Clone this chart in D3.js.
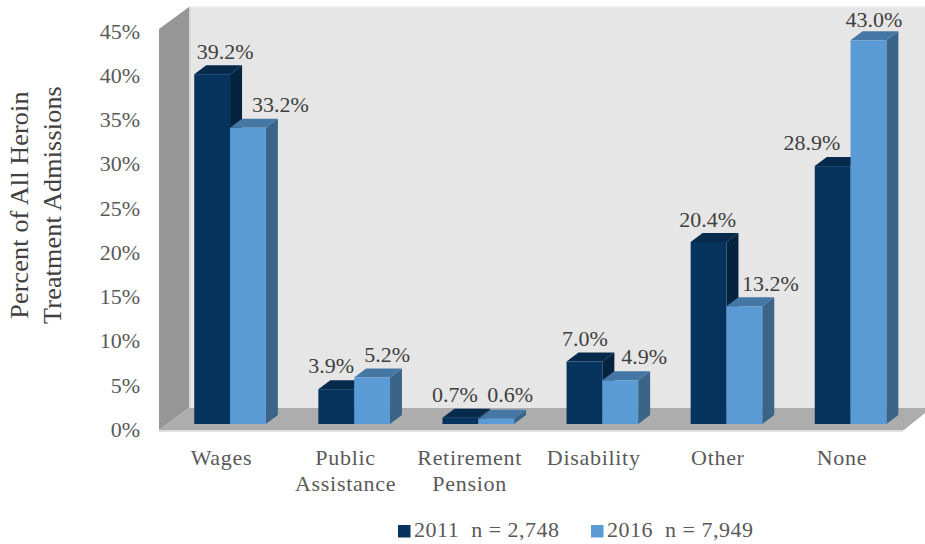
<!DOCTYPE html>
<html><head><meta charset="utf-8">
<script src="https://cdn.jsdelivr.net/npm/d3@7/dist/d3.min.js"></script>
<style>html,body{margin:0;padding:0;background:#fff}svg{display:block}
text{font-family:"Liberation Serif",serif;fill:#404040}</style></head>
<body><div id="chart"></div>
<script>
const categories = [["Wages"],["Public","Assistance"],["Retirement","Pension"],["Disability"],["Other"],["None"]];
const categoryKeys = ["Wages","Public Assistance","Retirement Pension","Disability","Other","None"];
const series2011 = [39.2,3.9,0.7,7.0,20.4,28.9];
const series2016 = [33.2,5.2,0.6,4.9,13.2,43.0];
const seriesNames = ["2011  n = 2,748","2016  n = 7,949"];
const yTicks = [0,5,10,15,20,25,30,35,40,45];
const yTitle = ["Percent of All Heroin","Treatment Admissions"];

// layout only
const W=925,H=544,dx3=12,dy3=9;
const svg=d3.select("#chart").append("svg").attr("width",W).attr("height",H);
const colors=[{front:"#06345f",top:"#052a4c",side:"#04233f"},{front:"#5b9bd5",top:"#4577a5",side:"#3a6488"}];
const x0=d3.scaleBand().domain(categoryKeys).range([168,912.6]).paddingInner(.423).paddingOuter(.2115);
const x1=d3.scaleBand().domain([0,1]).range([0,x0.bandwidth()]);
const yBar=d3.scaleLinear().domain([0,43]).range([424,40.3]);
const yAxisScale=d3.scaleLinear().domain([0,45]).range([429,31]);
const poly=(g,pts,fill)=>g.append("polygon").attr("points",pts.map(p=>p.join(",")).join(" ")).attr("fill",fill);

const bg=svg.append("g");
poly(bg,[[189,7],[925,7],[925,408],[189,408]],"#e6e6e6");
poly(bg,[[189,6],[925,6],[925,7.5],[189,7.5]],"#eeeeee");
poly(bg,[[159,29],[189,7],[189,408],[159,430]],"#969696");
poly(bg,[[189,7],[190.5,7],[190.5,408],[189,408]],"#d4d4d4");
poly(bg,[[159,430],[189,408],[925,408],[925,413],[904,430]],"#adadad");
poly(bg,[[159,430],[904,430],[902.5,432],[159,432]],"#e0e0e0");

const yAxis=svg.append("g").attr("transform","translate(140,0)")
  .call(d3.axisLeft(yAxisScale).tickValues(yTicks).tickFormat(d=>d+"%").tickSize(0).tickPadding(0));
yAxis.select(".domain").remove();
yAxis.selectAll("text").attr("font-size",22).attr("dy","0.33em").style("font-family",'"Liberation Serif",serif').style("fill","#595959");

const seriesAll=[series2011,series2016];
const cols=svg.append("g").selectAll("g").data(categoryKeys).join("g");
cols.each(function(cat,i){
  const g=d3.select(this);
  const w=x1.bandwidth(),b=yBar(0);
  [0,1].forEach(s=>{
    const v=seriesAll[s][i],x=x0(cat)+x1(s),t=yBar(v),c=colors[s];
    poly(g,[[x+w,t],[x+w+dx3,t-dy3],[x+w+dx3,b-dy3],[x+w,b]],c.side);
    poly(g,[[x,t],[x+dx3,t-dy3],[x+w+dx3,t-dy3],[x+w,t]],c.top);
    g.append("rect").attr("x",x).attr("y",t).attr("width",w).attr("height",b-t).attr("fill",c.front);
  });
});

// label placement relative to bar front top
const labelDx=[[13,32.5],[-5,15],[-5.5,14],[0.5,24],[-1,26],[-20.7,5.5]];
const labelDy=[[-15,-16],[-16,-16],[-16,-16.5],[-15.5,-16],[-15,-15],[-16,-13.5]];
const fmt=d=>d.toFixed(1)+"%";
categoryKeys.forEach((cat,i)=>{
  [0,1].forEach(s=>{
    const v=seriesAll[s][i];
    svg.append("text").attr("x",x0(cat)+x1(s)+x1.bandwidth()/2+labelDx[i][s])
      .attr("y",yBar(v)+labelDy[i][s]).attr("text-anchor","middle").attr("font-size",22).text(fmt(v));
  });
});

const catG=svg.append("g");
categories.forEach((lines,i)=>{
  const cx=x0(categoryKeys[i])+x0.bandwidth()/2-8.6;
  lines.forEach((t,j)=>catG.append("text").attr("x",cx).attr("y",465+j*26).attr("text-anchor","middle")
    .attr("font-size",22).attr("letter-spacing",0.7).style("fill","#595959").text(t));
});

yTitle.forEach((t,j)=>svg.append("text").attr("transform",`translate(${28+j*33},205) rotate(-90)`)
  .attr("text-anchor","middle").attr("font-size",26).attr("letter-spacing",0.2).text(t));

const legendX=[398,591];
seriesNames.forEach((t,i)=>{
  svg.append("rect").attr("x",legendX[i]).attr("y",525).attr("width",12.5).attr("height",12.5).attr("fill",colors[i].front);
  svg.append("text").attr("x",legendX[i]+16).attr("y",537).attr("font-size",22).attr("letter-spacing",0.5)
    .style("white-space","pre").style("fill","#595959").text(t);
});
</script></body></html>
